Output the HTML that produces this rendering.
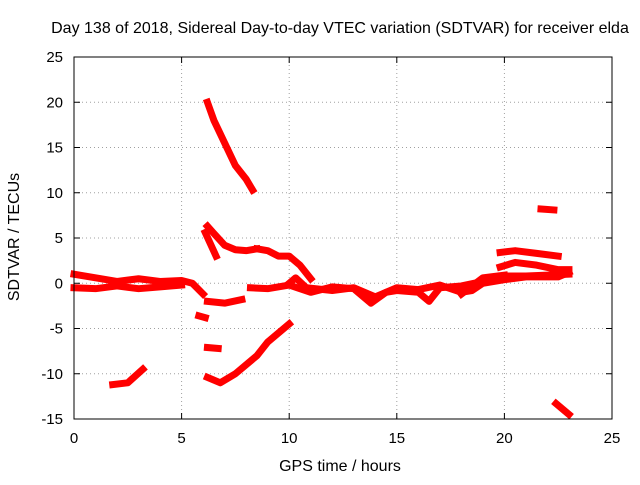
<!DOCTYPE html>
<html><head><meta charset="utf-8"><style>
body{margin:0;background:#fff;}
svg{font-family:"Liberation Sans",sans-serif;font-size:15px;}
</style></head><body>
<svg id="chart" width="640" height="480" viewBox="0 0 640 480">
<text x="340" y="33" text-anchor="middle" font-size="16">Day 138 of 2018, Sidereal Day-to-day VTEC variation (SDTVAR) for receiver elda</text>
<text x="340" y="471" text-anchor="middle" font-size="16">GPS time / hours</text>
<text transform="translate(19,237) rotate(-90)" text-anchor="middle" font-size="16">SDTVAR / TECUs</text>
<g id="grid"></g><g id="marks"></g>
<rect x="74" y="57" width="538" height="362" fill="none" stroke="#000" stroke-width="1"/>
<g id="ticks"></g>
</svg>
<script>
const xTicks=[0,5,10,15,20,25];
const yTicks=[25,20,15,10,5,0,-5,-10,-15];
const trackA=[[0,1],[1,0.6],[2,0.2],[3,0.5],[4,0.2],[5,0.3],[5.5,0],[6,-1.2]];
const trackB=[[0,-0.5],[1,-0.6],[2,-0.3],[3,-0.6],[4,-0.4],[5,-0.2]];
const trackC=[[6.2,-2],[7,-2.2],[7.8,-1.8]];
const trackD=[[8.2,-0.5],[9,-0.6],[10,-0.2],[11,-1],[12,-0.4],[13,-0.6],[13.8,-2.2],[14.5,-1],[15,-0.8],[16,-1],[16.5,-2],[17,-0.5],[18,-0.3],[19,0.2],[20,0.8],[21,0.8],[22,0.9],[23,1]];
const trackE=[[10,0],[10.3,0.6],[10.8,-0.5],[12,-0.8],[13,-0.5],[14,-1.5],[15,-0.5],[16,-0.7],[17,-0.2],[18,-1],[18.5,-0.8],[19,0],[20,0.4],[21,0.7],[22.5,0.7],[23,1.2]];
const trackF=[[8.5,3.8],[9,3.6],[9.5,3],[10,3],[10.5,2],[11,0.5]];
const trackG=[[6.2,6.3],[6.5,5.5],[7,4.2],[7.5,3.7],[8,3.6],[8.5,3.8]];
const trackH=[[6.1,5.6],[6.6,3]];
const trackI=[[6.2,20],[6.5,18],[7,15.5],[7.5,13],[8,11.5],[8.3,10.3]];
const trackJ=[[6.2,-10.4],[6.8,-11],[7.5,-10],[8.5,-8],[9,-6.5],[10,-4.5]];
const trackK=[[1.8,-11.2],[2.5,-11],[3.2,-9.5]];
const trackL=[[5.8,-3.6],[6.1,-3.8]];
const trackM=[[6.2,-7.1],[6.7,-7.2]];
const trackN=[[19.8,3.4],[20.5,3.6],[21.5,3.3],[22.5,3]];
const trackO=[[19.8,1.8],[20.5,2.3],[21.5,2],[22.5,1.5],[23,1.5]];
const trackP=[[21.7,8.2],[22.3,8.1]];
const trackQ=[[22.4,-13.3],[23,-14.5]];
const trackR=[[18,-1.2],[19,0.6],[20,0.9]];
const tracks=[trackA,trackB,trackC,trackD,trackE,trackF,trackG,trackH,trackI,trackJ,trackK,trackL,trackM,trackN,trackO,trackP,trackQ,trackR];
const L=74,R=612,T=57,B=419;
const sx=v=>L+(v-0)/25*(R-L);
const sy=v=>T+(25-v)/40*(B-T);
const NS='http://www.w3.org/2000/svg';
const grid=document.getElementById('grid'),ticks=document.getElementById('ticks'),marks=document.getElementById('marks');
function mk(tag,attrs,parent){const e=document.createElementNS(NS,tag);for(const k in attrs)e.setAttribute(k,attrs[k]);parent.appendChild(e);return e;}
xTicks.forEach(t=>{const x=sx(t);
 if(t>0&&t<25){const g=mk('line',{x1:x,x2:x,y1:T,y2:B,stroke:'#a0a0a0','stroke-dasharray':'1,3'},grid);
 
 }
 mk('line',{x1:x,x2:x,y1:B,y2:B-6,stroke:'#000'},ticks);mk('line',{x1:x,x2:x,y1:T,y2:T+6,stroke:'#000'},ticks);
 const tx=mk('text',{x:x,y:B+24,'text-anchor':'middle'},ticks);tx.textContent=t;
 
 });
yTicks.forEach(t=>{const y=sy(t);
 if(t<25&&t>-15){const g=mk('line',{x1:L,x2:R,y1:y,y2:y,stroke:'#a0a0a0','stroke-dasharray':'1,3'},grid);
 
 }
 mk('line',{x1:L,x2:L+6,y1:y,y2:y,stroke:'#000'},ticks);mk('line',{x1:R,x2:R-6,y1:y,y2:y,stroke:'#000'},ticks);
 const tx=mk('text',{x:L-11,y:y+5,'text-anchor':'end'},ticks);tx.textContent=t;
 
 });
tracks.forEach(tr=>{const p=mk('polyline',{points:tr.map(d=>sx(d[0])+','+sy(d[1])).join(' '),fill:'none',stroke:'#ff0000','stroke-width':7,'stroke-linejoin':'round','stroke-linecap':'square'},marks);
 
 });
</script>
</body></html>
